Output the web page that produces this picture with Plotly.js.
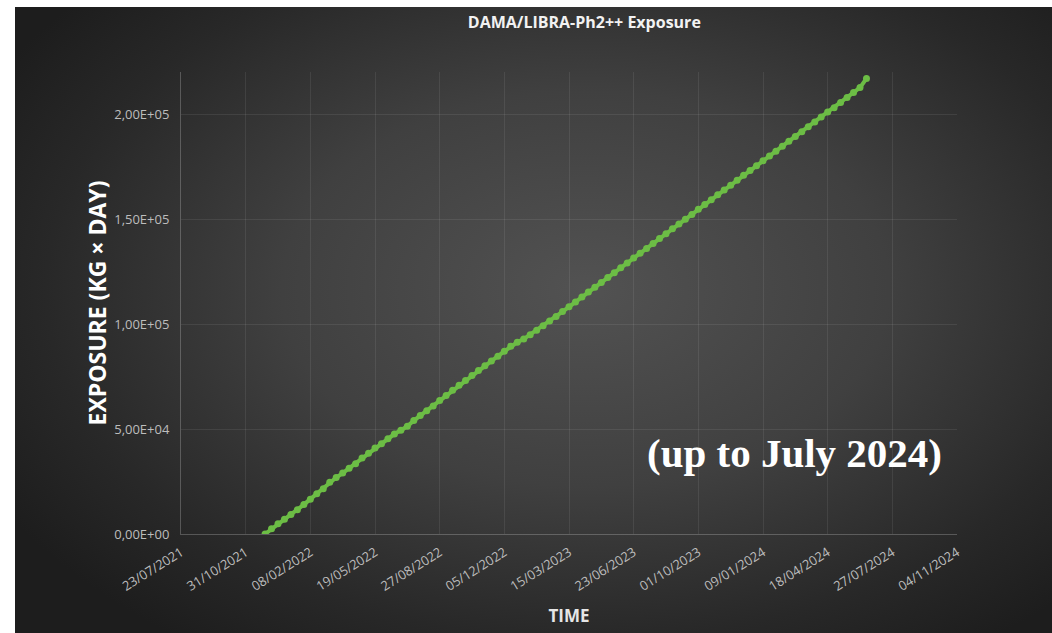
<!DOCTYPE html>
<html>
<head>
<meta charset="utf-8">
<script src="https://cdn.plot.ly/plotly-3.0.1.min.js"></script>
<style>
  html, body { margin: 0; padding: 0; background: #ffffff; width: 1052px; height: 633px; overflow: hidden; }
  #chart {
    position: absolute; left: 15px; top: 7px; width: 1037px; height: 626px;
    background: radial-gradient(ellipse 65% 70% at 55% 45%, #525252 0%, #404040 45%, #282828 80%, #1d1d1d 100%);
  }
</style>
</head>
<body>
<div id="chart"></div>
<script>
// ---- data ----
const dates = [
  "2021-11-30","2021-12-10","2021-12-20","2021-12-30","2022-01-09","2022-01-19","2022-01-29","2022-02-08","2022-02-18","2022-02-28",
  "2022-03-10","2022-03-20","2022-03-30","2022-04-09","2022-04-19","2022-04-29","2022-05-09","2022-05-19","2022-05-29","2022-06-08",
  "2022-06-18","2022-06-28","2022-07-08","2022-07-18","2022-07-28","2022-08-07","2022-08-17","2022-08-27","2022-09-06","2022-09-16",
  "2022-09-26","2022-10-06","2022-10-16","2022-10-26","2022-11-05","2022-11-15","2022-11-25","2022-12-05","2022-12-15","2022-12-25",
  "2023-01-04","2023-01-14","2023-01-24","2023-02-03","2023-02-13","2023-02-23","2023-03-05","2023-03-15","2023-03-25","2023-04-04",
  "2023-04-14","2023-04-24","2023-05-04","2023-05-14","2023-05-24","2023-06-03","2023-06-13","2023-06-23","2023-07-03","2023-07-13",
  "2023-07-23","2023-08-02","2023-08-12","2023-08-22","2023-09-01","2023-09-11","2023-09-21","2023-10-01","2023-10-11","2023-10-21",
  "2023-10-31","2023-11-10","2023-11-20","2023-11-30","2023-12-10","2023-12-20","2023-12-30","2024-01-09","2024-01-19","2024-01-29",
  "2024-02-08","2024-02-18","2024-02-28","2024-03-09","2024-03-19","2024-03-29","2024-04-08","2024-04-18","2024-04-28","2024-05-08",
  "2024-05-18","2024-05-28","2024-06-07","2024-06-17"
];
const exposure = [
  0, 2500, 4900, 7000, 9300, 11500, 14000, 16600, 19200, 21600,
  24600, 26900, 29000, 31300, 33500, 36200, 38400, 40900, 43000, 45300,
  47600, 49400, 51300, 54000, 56400, 58700, 61000, 63600, 66000, 68500,
  70800, 73100, 75500, 77800, 80100, 82400, 84700, 87000, 89400, 91300,
  92800, 94900, 97000, 99200, 101400, 103600, 105900, 108200, 110500, 112900,
  115200, 117500, 119800, 122100, 124400, 126800, 129100, 131400, 133700, 136000,
  138300, 140700, 143000, 145300, 147600, 149900, 152200, 154600, 156900, 159200,
  161500, 163800, 166100, 168500, 170800, 173100, 175400, 177700, 180000, 182300,
  184700, 187000, 189300, 191600, 193900, 196200, 198600, 200900, 203000, 205500,
  207900, 210200, 212600, 216900
];
const yTickVals = [0, 50000, 100000, 150000, 200000];
const yTickText = ["0,00E+00", "5,00E+04", "1,00E+05", "1,50E+05", "2,00E+05"];
const xRange = ["2021-07-23", "2024-11-04"];
const chartTitle = "DAMA/LIBRA-Ph2++ Exposure";
const xTitle = "TIME";
const yTitle = "EXPOSURE (KG × DAY)";
const note = "(up to July 2024)";

const DAY = 86400000;

const trace = {
  x: dates, y: exposure, type: "scatter", mode: "lines+markers",
  line: { color: "#6cbd45", width: 4 },
  marker: { color: "#6cbd45", size: 7 },
  hoverinfo: "x+y"
};

const layout = {
  width: 1037, height: 626,
  paper_bgcolor: "rgba(0,0,0,0)", plot_bgcolor: "rgba(0,0,0,0)",
  margin: { l: 166, r: 95, t: 65, b: 99 },
  showlegend: false,
  font: { family: "Open Sans, sans-serif", color: "#bdbdbd" },
  title: {
    text: chartTitle, x: 0.549, xref: "container", xanchor: "center",
    y: 0.976, yref: "container", yanchor: "middle",
    font: { family: "Open Sans, sans-serif", size: 16, color: "#f2f2f2", weight: 700 }
  },
  xaxis: {
    type: "date", range: xRange, tick0: xRange[0], dtick: 100 * DAY,
    tickformat: "%d/%m/%Y", tickangle: -32,
    tickfont: { size: 13, color: "#bdbdbd" },
    showgrid: true, gridcolor: "rgba(255,255,255,0.08)", gridwidth: 1,
    showline: true, linecolor: "rgba(255,255,255,0.22)", linewidth: 1,
    zeroline: false, ticks: "outside", ticklen: 5, tickcolor: "rgba(0,0,0,0)",
    title: { text: xTitle, standoff: 16, font: { size: 17, color: "#e6e6e6", weight: 700 } }
  },
  yaxis: {
    range: [0, 220000], tickmode: "array", tickvals: yTickVals, ticktext: yTickText,
    tickfont: { size: 13, color: "#bdbdbd" },
    showgrid: true, gridcolor: "rgba(255,255,255,0.08)", gridwidth: 1,
    showline: true, linecolor: "rgba(255,255,255,0.22)", linewidth: 1,
    zeroline: false, ticks: "outside", ticklen: 8, tickcolor: "rgba(0,0,0,0)",
    title: { text: yTitle, standoff: 1, font: { size: 23, color: "#ffffff", weight: 700 } }
  },
  annotations: [{
    text: note, xref: "paper", yref: "paper", x: 0.791, y: 0.175,
    xanchor: "center", yanchor: "middle", showarrow: false,
    font: { family: "Liberation Serif, serif", size: 41, color: "#ffffff", weight: 700 }
  }]
};

Plotly.newPlot("chart", [trace], layout, { displayModeBar: false, staticPlot: true });
</script>
</body>
</html>
